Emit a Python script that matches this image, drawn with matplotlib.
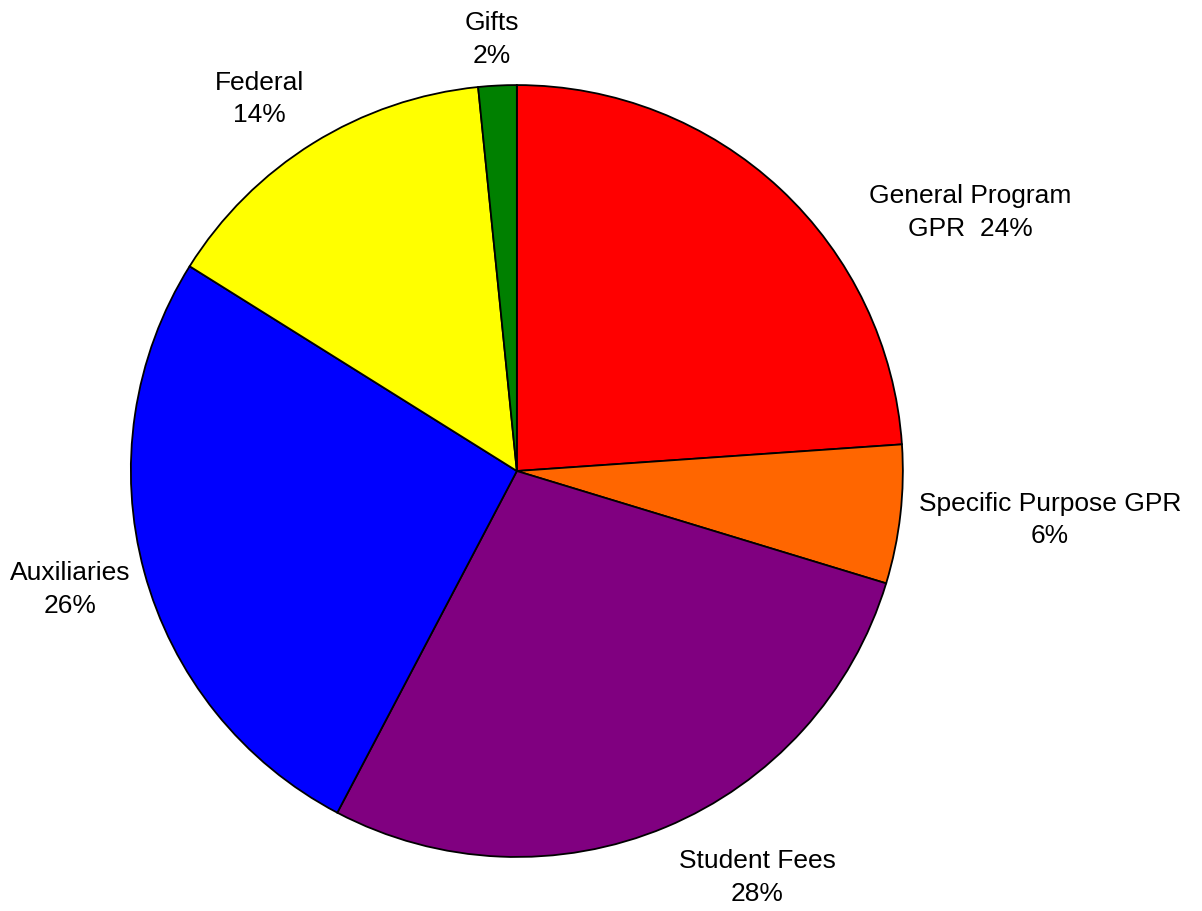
import matplotlib
matplotlib.use("Agg")
import matplotlib.pyplot as plt

plt.rcParams['font.family'] = ['Liberation Sans', 'DejaVu Sans']

# slice data, clockwise from 12 o'clock
categories = ["General Program\nGPR  24%", "Specific Purpose GPR\n6%", "Student Fees\n28%",
              "Auxiliaries\n26%", "Federal\n14%", "Gifts\n2%"]
values = [23.9, 5.8, 28.0, 26.2, 14.5, 1.6]
colors = ["#ff0000", "#ff6600", "#800080", "#0000ff", "#ffff00", "#008000"]
# label anchor points (pie radius = 1)
label_xy = [(1.174, 0.672), (1.381, -0.124), (0.622, -1.050),
            (-1.158, -0.305), (-0.666, 0.967), (-0.065, 1.120)]

fig = plt.figure(figsize=(12.02, 9.12), dpi=100)
ax = fig.add_axes([0, 0, 1, 1])
ax.pie(values, colors=colors, startangle=90, counterclock=False,
       wedgeprops=dict(edgecolor='black', linewidth=1.3))
ax.set_xlim(-1.339, 1.775)
ax.set_ylim(-1.140, 1.223)
ax.set_aspect('auto')
ax.axis('off')

for txt, (x, y) in zip(categories, label_xy):
    ax.text(x, y, txt, ha='center', va='center', fontsize=19, linespacing=1.45)

fig.savefig("out.png", dpi=100)
